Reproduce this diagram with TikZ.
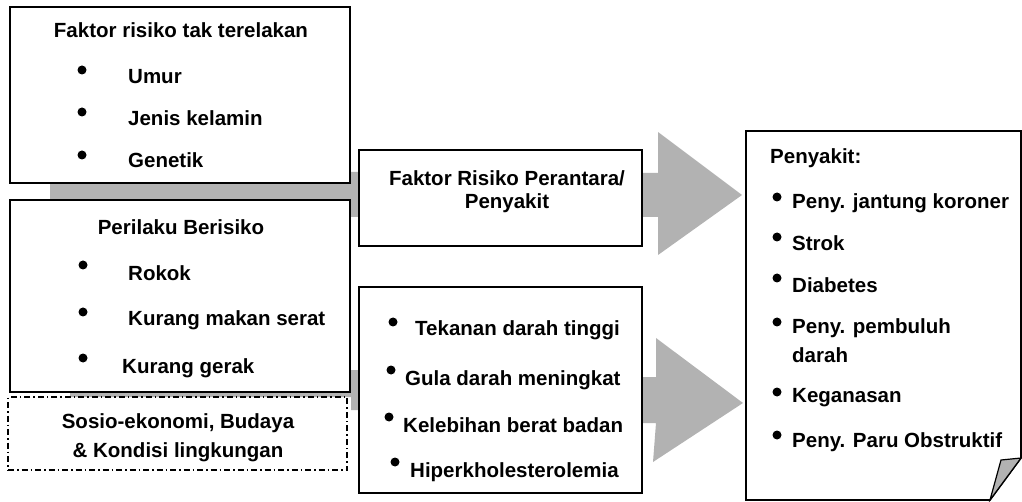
\documentclass[tikz,border=0pt]{standalone}
\usepackage{fontspec}
\setmainfont{Liberation Sans}
\usepackage{tikz}

\begin{document}
\begin{tikzpicture}[x=1pt,y=-1pt,
  kotak/.style={draw,line width=1.6pt,fill=white,inner sep=0pt},
  teks/.style={inner sep=0pt,font=\fontsize{20.5}{24}\selectfont\bfseries},
  butir/.style={teks,anchor=west},
  abu/.style={fill=gray!60}]
\useasboundingbox (0,0) rectangle (1022,502);
% gray connectors
\fill[abu] (50,183) -- (350,183) -- (350,172) -- (358,172) -- (358,217) -- (350,217) -- (350,200) -- (50,200) -- cycle;
\fill[abu] (70,392) -- (351,392) -- (351,370) -- (358,370) -- (358,410) -- (351,410) -- (351,397) -- (70,397) -- cycle;
\fill[abu] (643,173) -- (658,173) -- (658,132) -- (742,195) -- (658,255) -- (658,217) -- (643,217) -- cycle;
\fill[abu] (641,377) -- (656,377) -- (656,338) -- (743,403) -- (653,462) -- (656,423) -- (641,423) -- cycle;
% left boxes
\node[kotak,minimum width=340pt,minimum height=176pt] (tetap) at (180,95) {};
\node[teks] (judul1) at (181,30) {Faktor risiko tak terelakan};
\node[butir] (umur) at (128,77) {Umur};
\node[butir] (kelamin) at (128,118) {Jenis kelamin};
\node[butir] (genetik) at (128,160) {Genetik};
\fill (82,70) circle (4.5pt);
\fill (82,112) circle (4.5pt);
\fill (82,155) circle (4.5pt);
\node[kotak,minimum width=340pt,minimum height=192pt] (perilaku) at (180,296) {};
\node[teks] (judul2) at (181,227) {Perilaku Berisiko};
\node[butir] (rokok) at (128,273) {Rokok};
\node[butir] (serat) at (128,320) {Kurang makan serat};
\node[butir] (gerak) at (122,368) {Kurang gerak};
\fill (83,265) circle (4.5pt);
\fill (83,312) circle (4.5pt);
\fill (83,358) circle (4.5pt);
\node[draw,line width=1.2pt,dash pattern=on 6pt off 3pt on 1.5pt off 3pt,minimum width=339pt,minimum height=73pt] (sosio) at (177.5,433.5) {};
\node[teks] (sosio1) at (178,423) {Sosio-ekonomi, Budaya};
\node[teks] (sosio2) at (178,452) {\& Kondisi lingkungan};
% middle boxes
\node[kotak,minimum width=283pt,minimum height=96pt] (perantara) at (500.5,198) {};
\node[teks] (perantara1) at (507,178) {Faktor Risiko Perantara/};
\node[teks] (perantara2) at (507,203) {Penyakit};
\node[kotak,minimum width=283pt,minimum height=206pt] (klinis) at (500.5,390) {};
\node[butir] (tensi) at (415,330) {Tekanan darah tinggi};
\node[butir] (gula) at (405,380) {Gula darah meningkat};
\node[butir] (berat) at (403,425) {Kelebihan berat badan};
\node[butir] (kolesterol) at (410,472) {Hiperkholesterolemia};
\fill (393,322) circle (4.5pt);
\fill (391,370) circle (4.5pt);
\fill (389,417) circle (4.5pt);
\fill (395,462) circle (4.5pt);
% right box
\coordinate (a) at (746,131);
\coordinate (b) at (1021,131);
\coordinate (c) at (1021,458);
\coordinate (d) at (990,500);
\coordinate (e) at (746,500);
\draw[line width=1.6pt,fill=white] (a)--(b)--(c)--(d)--(e)--cycle;
\draw[abu,line width=1.2pt] (d)--(1001,460)--(c)--cycle;
\node[butir] (penyakit) at (770,158) {Penyakit:};
\node[butir] (pjk) at (792,203) {Peny. jantung koroner};
\node[butir] (strok) at (792,243) {Strok};
\node[butir] (diabetes) at (792,285) {Diabetes};
\node[butir] (pembuluh) at (792,328) {Peny. pembuluh};
\node[butir] (darah) at (792,355) {darah};
\node[butir] (kanker) at (792,398) {Keganasan};
\node[butir] (paru) at (792,442) {Peny. Paru Obstruktif};
\fill (777,197) circle (4.5pt);
\fill (777,237) circle (4.5pt);
\fill (777,278) circle (4.5pt);
\fill (777,322) circle (4.5pt);
\fill (777,392) circle (4.5pt);
\fill (777,435) circle (4.5pt);

\end{tikzpicture}
\end{document}
